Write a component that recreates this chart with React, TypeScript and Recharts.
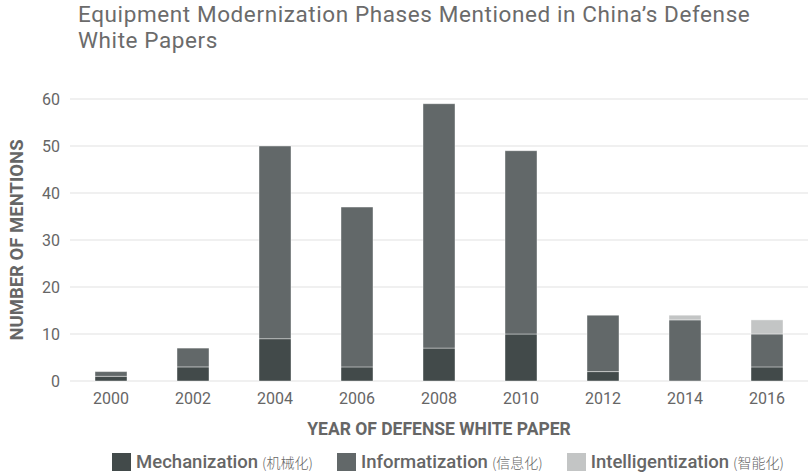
import React from 'react';
import { BarChart, Bar, XAxis, YAxis, CartesianGrid, Legend } from 'recharts';

const years = ['2000', '2002', '2004', '2006', '2008', '2010', '2012', '2014', '2016'];
const mechanization = [1, 3, 9, 3, 7, 10, 2, 0, 3];
const informatization = [1, 4, 41, 34, 52, 39, 12, 13, 7];
const intelligentization = [0, 0, 0, 0, 0, 0, 0, 1, 3];
const yTicks = [0, 10, 20, 30, 40, 50, 60];

const series = [
  { key: 'mech', name: 'Mechanization', zh: '(机械化)', color: '#424a4a' },
  { key: 'info', name: 'Informatization', zh: '(信息化)', color: '#626869' },
  { key: 'intel', name: 'Intelligentization', zh: '(智能化)', color: '#c3c5c5' },
];

const data = years.map((year, i) => ({
  year,
  mech: mechanization[i],
  info: informatization[i],
  intel: intelligentization[i],
}));

const FONT = 'Roboto, "Noto Sans", sans-serif';

function LegendContent() {
  return (
    <div style={{ display: 'flex', justifyContent: 'center', alignItems: 'center', fontFamily: FONT, color: '#666', paddingLeft: 88 }}>
      {series.map((s) => (
        <div key={s.key} style={{ display: 'flex', alignItems: 'center', margin: '0 12px' }}>
          <span style={{ width: 19, height: 18, background: s.color, display: 'inline-block', marginRight: 5 }} />
          <span style={{ fontSize: 18.5, fontWeight: 500 }}>{s.name}</span>
          <span style={{ fontSize: 14, marginLeft: 4, fontFamily: '"Noto Sans CJK SC", sans-serif', fontWeight: 300 }}>{s.zh}</span>
        </div>
      ))}
    </div>
  );
}

export default function App() {
  return (
    <div style={{ position: 'absolute', left: 0, top: 0, width: 808, height: 473, background: '#fff', fontFamily: FONT }}>
      <div style={{ position: 'absolute', left: 78, top: 2, fontSize: 22.5, lineHeight: '25.6px', color: '#6b6b6b', fontWeight: 400, letterSpacing: 0.6 }}>
        Equipment Modernization Phases Mentioned in China’s Defense
        <br />
        White Papers
      </div>
      <BarChart width={808} height={473} data={data} margin={{ top: 99, right: 0, left: 0, bottom: 0 }}>
        <CartesianGrid vertical={false} stroke="#ebebeb" strokeWidth={1.5} />
        <XAxis
          dataKey="year"
          height={70}
          tickLine={false}
          axisLine={false}
          tickMargin={6}
          tick={{ fontSize: 16, fill: '#666', fontFamily: FONT }}
          label={{ value: 'YEAR OF DEFENSE WHITE PAPER', position: 'insideBottom', offset: 16, fontSize: 17.5, fontWeight: 700, fill: '#666', fontFamily: FONT }}
        />
        <YAxis
          width={70}
          domain={[0, 60]}
          ticks={yTicks}
          tickLine={false}
          axisLine={false}
          tickMargin={4}
          tick={{ fontSize: 16, fill: '#666', fontFamily: FONT }}
          label={{ value: 'NUMBER OF MENTIONS', angle: -90, position: 'insideLeft', offset: 16, fontSize: 18.5, fontWeight: 700, fill: '#666', fontFamily: FONT, style: { textAnchor: 'middle' } }}
        />
        <Legend verticalAlign="bottom" height={22} content={<LegendContent />} />
        {series.map((s) => (
          <Bar
            key={s.key}
            dataKey={s.key}
            name={s.name}
            stackId="a"
            fill={s.color}
            barSize={32}
            stroke="#ffffff"
            strokeOpacity={0.4}
            isAnimationActive={false}
          />
        ))}
      </BarChart>
    </div>
  );
}
